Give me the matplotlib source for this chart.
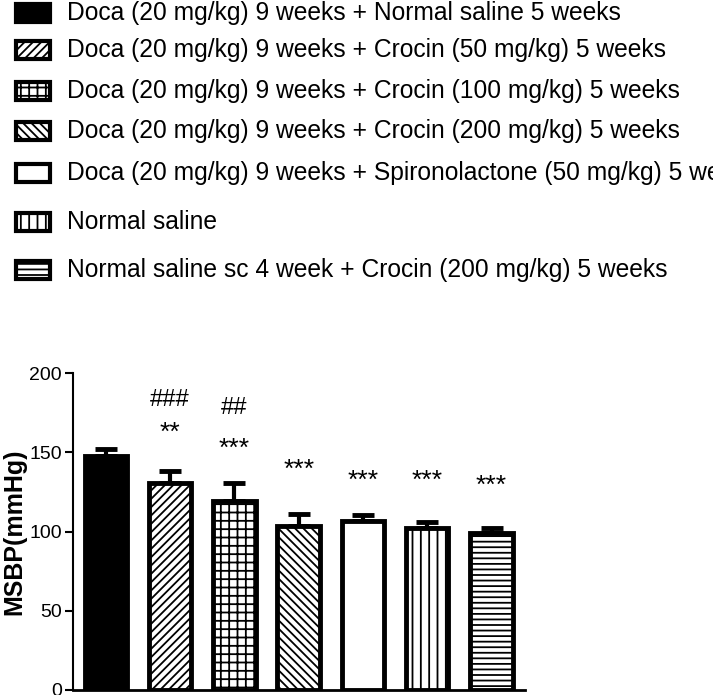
import numpy as np
import matplotlib.pyplot as plt
from matplotlib.patches import Rectangle

plt.rcParams["font.family"] = ["Liberation Sans", "DejaVu Sans"]
plt.rcParams["hatch.linewidth"] = 1.3

groups = [
    "Doca (20 mg/kg) 9 weeks + Normal saline 5 weeks",
    "Doca (20 mg/kg) 9 weeks + Crocin (50 mg/kg) 5 weeks",
    "Doca (20 mg/kg) 9 weeks + Crocin (100 mg/kg) 5 weeks",
    "Doca (20 mg/kg) 9 weeks + Crocin (200 mg/kg) 5 weeks",
    "Doca (20 mg/kg) 9 weeks + Spironolactone (50 mg/kg) 5 weeks",
    "Normal saline",
    "Normal saline sc 4 week + Crocin (200 mg/kg) 5 weeks",
]
msbp = [147.5, 130.5, 119.5, 103.5, 106.5, 102.5, 99.0]
sem = [4.5, 7.5, 11.0, 7.5, 4.0, 3.5, 3.0]
stars = ["", "**", "***", "***", "***", "***", "***"]
star_y = [0, 162, 152, 139, 132, 132, 129]
hashes = ["", "###", "##", "", "", "", ""]
hash_y = [0, 183, 178, 0, 0, 0, 0]

fills = ["black", "white", "white", "white", "white", "white", "white"]
hatches = [None, "////", "++", "\\\\\\\\", None, "||", "---"]

fig = plt.figure(figsize=(7.13, 6.95), dpi=100)

# main bar chart
ax = fig.add_axes([73 / 713, 5 / 695, 452 / 713, 317 / 695])
x = np.arange(len(msbp))
ax.errorbar(x, msbp, yerr=[np.zeros(len(sem)), sem], fmt="none", ecolor="black",
            elinewidth=3, capsize=8, capthick=3.5, zorder=1)
ax.bar(x, msbp, width=0.66, color=fills, edgecolor="black", hatch=hatches,
       linewidth=3.5, zorder=2)

for i in x:
    if stars[i]:
        ax.text(i, star_y[i], stars[i], ha="center", va="center", fontsize=19)
    if hashes[i]:
        ax.text(i, hash_y[i], hashes[i], ha="center", va="center", fontsize=17)

ax.set_xlim(-0.51, 6.52)
ax.set_ylim(0, 200)
ax.set_yticks([0, 50, 100, 150, 200])
ax.set_xticks([])
ax.spines["top"].set_visible(False)
ax.spines["right"].set_visible(False)
ax.spines["left"].set_linewidth(1.5)
ax.spines["bottom"].set_linewidth(2)
ax.tick_params(axis="y", length=6, width=1.5, labelsize=14, pad=2)
ax.set_ylabel("MSBP(mmHg)", fontsize=18, fontweight="bold", labelpad=2)

# legend drawn by hand in figure pixels
row_y = [13, 50, 91, 131, 173, 222, 270]
for lab, fc, h, yc in zip(groups, fills, hatches, row_y):
    fig.add_artist(Rectangle((16 / 713, 1 - (yc + 9) / 695), 34 / 713, 18 / 695,
                             transform=fig.transFigure, facecolor=fc,
                             edgecolor="black", hatch=h, linewidth=3))
    fig.text(67 / 713, 1 - yc / 695, lab, fontsize=17.7, va="center", ha="left")

fig.savefig("out.png", dpi=100)
